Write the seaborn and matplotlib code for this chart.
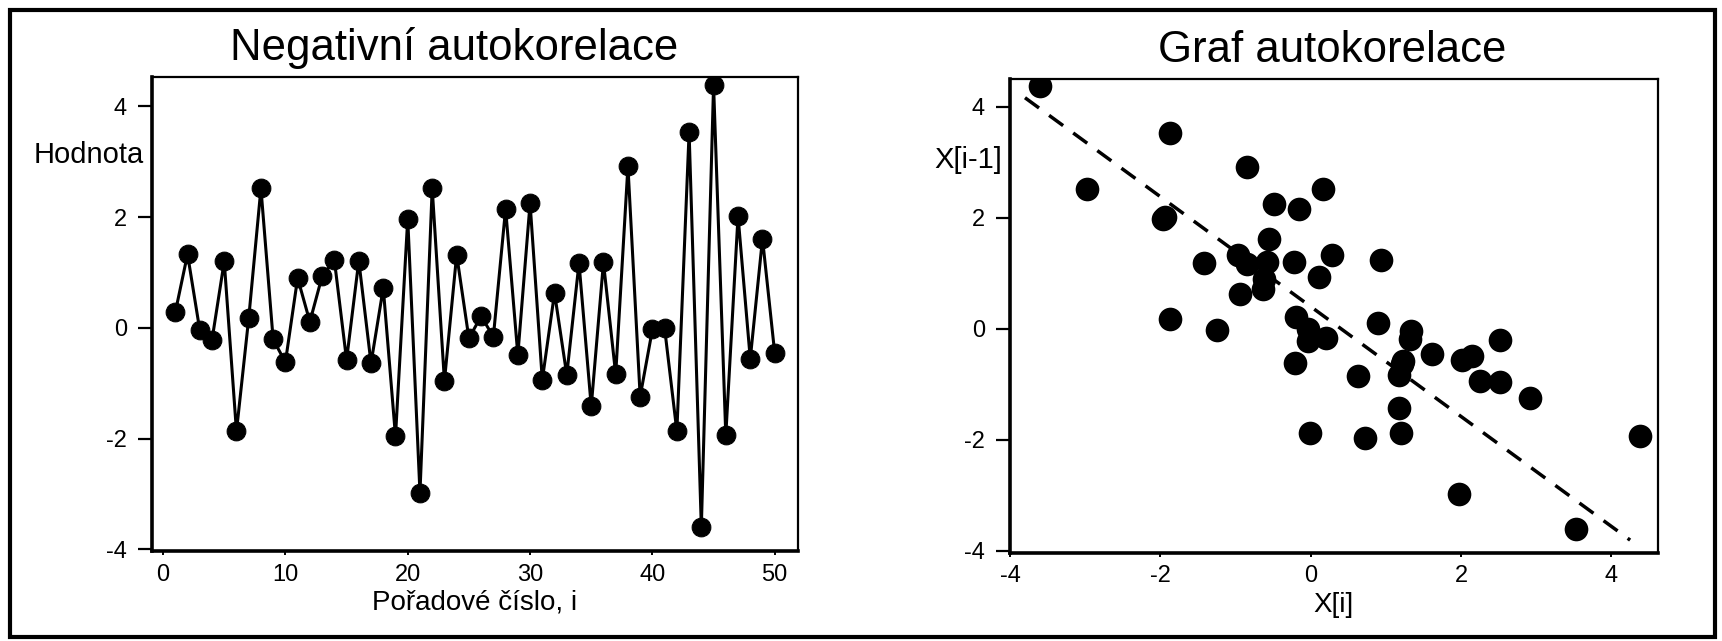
import numpy as np
import pandas as pd
import matplotlib
matplotlib.use("Agg")
import matplotlib.pyplot as plt
from matplotlib.patches import Rectangle
import seaborn as sns

# Series with negative lag-1 autocorrelation (order number i = 1..50)
order = list(range(1, 51))
values = [0.28, 1.33, -0.04, -0.22, 1.20, -1.87, 0.17, 2.52, -0.21, -0.62,
          0.90, 0.11, 0.93, 1.23, -0.58, 1.21, -0.64, 0.72, -1.96, 1.97,
          -2.98, 2.52, -0.96, 1.32, -0.19, 0.21, -0.16, 2.15, -0.49, 2.25,
          -0.94, 0.63, -0.85, 1.17, -1.42, 1.18, -0.84, 2.92, -1.24, -0.03,
          -0.01, -1.87, 3.53, -3.60, 4.38, -1.94, 2.02, -0.56, 1.61, -0.46]

# Trend line drawn over the lag plot
trend_slope = -0.99
trend_intercept = 0.40
trend_x = [-3.8, 4.25]

left_title = "Negativní autokorelace"
left_xlabel = "Pořadové číslo, i"
left_ylabel = "Hodnota"
right_title = "Graf autokorelace"
right_xlabel = "X[i]"
right_ylabel = "X[i-1]"

left_xticks = [0, 10, 20, 30, 40, 50]
value_ticks = [-4, -2, 0, 2, 4]

series = pd.DataFrame({"i": order, "x": values})
lag = pd.DataFrame({"prev": values[:-1], "curr": values[1:]})
trend = pd.DataFrame({"prev": trend_x})
trend["curr"] = trend_intercept + trend_slope * trend["prev"]

sns.set_theme(style="white")
plt.rcParams["font.family"] = ["Liberation Sans", "DejaVu Sans"]
plt.rcParams["axes.edgecolor"] = "black"
plt.rcParams["axes.linewidth"] = 1.6
plt.rcParams["axes.unicode_minus"] = False
for key in ("text.color", "axes.labelcolor", "xtick.color", "ytick.color"):
    plt.rcParams[key] = "black"

fig = plt.figure(figsize=(17.22, 6.41), dpi=100)
ax1 = fig.add_axes([0.0883, 0.1404, 0.3751, 0.7395])
ax2 = fig.add_axes([0.5865, 0.1373, 0.3763, 0.7395])

# Left panel: the time series
sns.lineplot(data=series, x="i", y="x", ax=ax1, color="black", linewidth=2.2,
             marker="o", markersize=13.5, markeredgecolor="black",
             markerfacecolor="black")
ax1.set_xlim(-0.9, 51.9)
ax1.set_ylim(-4.03, 4.53)
ax1.set_xticks(left_xticks)
ax1.set_yticks(value_ticks)

# Right panel: lag plot with dashed trend line
sns.scatterplot(data=lag, x="prev", y="curr", ax=ax2, color="black", s=290,
                edgecolor="black", linewidth=0)
sns.lineplot(data=trend, x="prev", y="curr", ax=ax2, color="black",
             linewidth=2.5, dashes=(5.0, 3.6))
ax2.set_xlim(-3.95, 4.62)
ax2.set_ylim(-4.04, 4.5)
ax2.set_xticks(value_ticks)
ax2.set_yticks(value_ticks)

for ax, title, tx, xl, yl, ycoord in [
        (ax1, left_title, 0.4675, left_xlabel, left_ylabel, 0.835),
        (ax2, right_title, 0.497, right_xlabel, right_ylabel, 0.83)]:
    ax.set_title(title, fontsize=31.5, pad=12, x=tx)
    ax.set_xlabel(xl, fontsize=20, labelpad=3)
    ax.set_ylabel(yl, fontsize=21, rotation=0, ha="right", va="center")
    ax.yaxis.set_label_coords(-0.012, ycoord)
    ax.tick_params(axis="y", direction="out", length=10, width=1.6,
                   labelsize=17, pad=8, left=True)
    ax.tick_params(axis="x", direction="out", length=3, width=1.4,
                   labelsize=17, pad=6, bottom=True)
    ax.spines["left"].set_linewidth(2.6)
    ax.spines["bottom"].set_linewidth(2.6)
    for s in ("top", "right"):
        ax.spines[s].set_linewidth(1.6)
    ax.grid(False)

# Frame around the whole figure
fig.add_artist(Rectangle((10 / 1722, 4 / 641), 1705 / 1722, 627 / 641,
                         transform=fig.transFigure, fill=False,
                         edgecolor="black", linewidth=3.0))

fig.savefig("out.png", dpi=100, facecolor="white")
